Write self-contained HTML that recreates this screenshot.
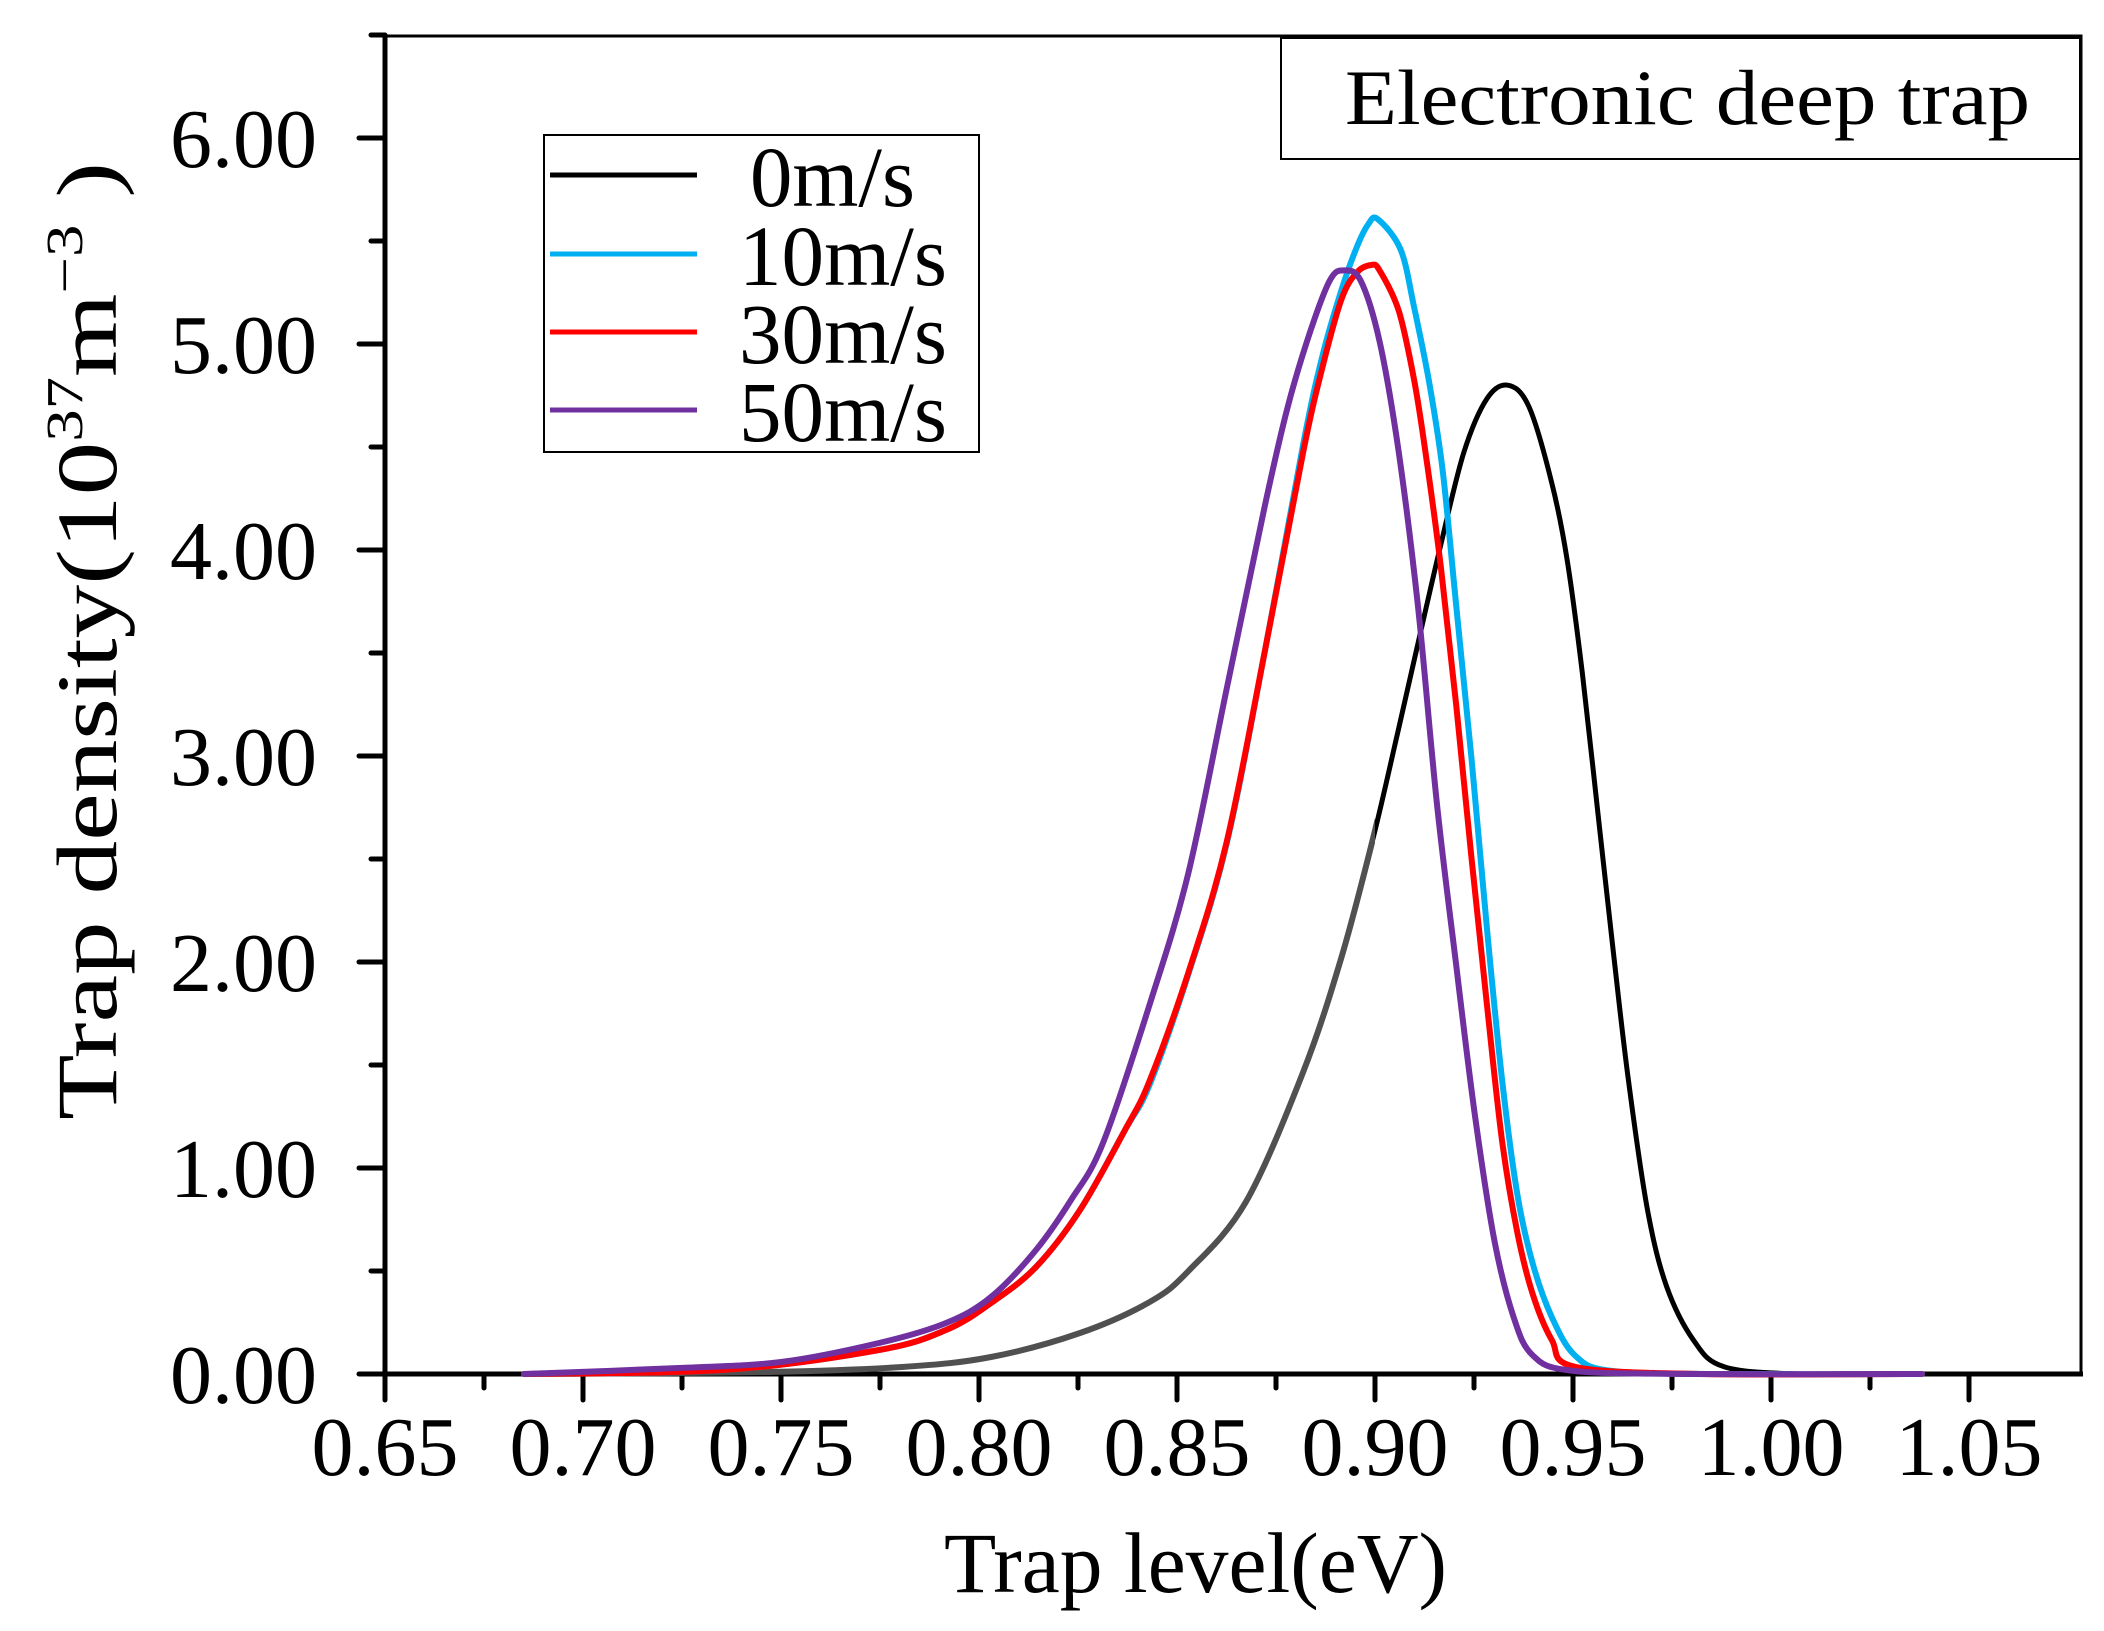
<!DOCTYPE html>
<html><head><meta charset="utf-8"><style>
html,body{margin:0;padding:0;background:#fff;}
svg{display:block;}
text{font-family:"Liberation Serif",serif;fill:#000;}
</style></head><body>
<svg id="s" width="2104" height="1631" viewBox="0 0 2104 1631" xmlns="http://www.w3.org/2000/svg">
<rect width="2104" height="1631" fill="#fff"/>
<g id="ticks" stroke="#000" stroke-width="5" stroke-linecap="round"></g>
<rect x="385" y="36" width="1696" height="1338" fill="none" stroke="#000" stroke-width="3"/>
<line x1="385" y1="34" x2="385" y2="1376" stroke="#000" stroke-width="5"/>
<line x1="361" y1="1374" x2="2083" y2="1374" stroke="#000" stroke-width="5"/>
<g id="curves" fill="none" stroke-linejoin="round" stroke-linecap="round"></g>
<g font-size="84" text-anchor="end" id="ylab"></g>
<g font-size="84" text-anchor="middle" id="xlab"></g>
<text x="944" y="1592" font-size="86" textLength="503" lengthAdjust="spacingAndGlyphs">Trap level(eV)</text>
<text transform="translate(116,1120) rotate(-90)" font-size="86" textLength="958" lengthAdjust="spacingAndGlyphs">Trap density(10<tspan font-size="52" dy="-34">37</tspan><tspan dy="34">m</tspan><tspan font-size="52" dy="-34">−3</tspan><tspan dy="34"> )</tspan></text>
<rect x="1281" y="38" width="799" height="121" fill="#fff" stroke="#000" stroke-width="2"/>
<text x="1345" y="124" font-size="78" textLength="685" lengthAdjust="spacingAndGlyphs">Electronic deep trap</text>
<rect x="544" y="135" width="435" height="317" fill="#fff" stroke="#000" stroke-width="2"/>
<g stroke-width="5">
<line x1="550" y1="175" x2="697" y2="175" stroke="#000"/>
<line x1="550" y1="254" x2="697" y2="254" stroke="#00b0f0"/>
<line x1="550" y1="332" x2="697" y2="332" stroke="#ff0000"/>
<line x1="550" y1="410" x2="697" y2="410" stroke="#7030a0"/>
</g>
<g font-size="86">
<text x="750" y="206" textLength="165" lengthAdjust="spacingAndGlyphs">0m/s</text>
<text x="739" y="285" textLength="208" lengthAdjust="spacingAndGlyphs">10m/s</text>
<text x="739" y="363" textLength="208" lengthAdjust="spacingAndGlyphs">30m/s</text>
<text x="739" y="441" textLength="208" lengthAdjust="spacingAndGlyphs">50m/s</text>
</g>
</svg>
<script>
var NS="http://www.w3.org/2000/svg";
function el(p,t,a,txt){var e=document.createElementNS(NS,t);for(var k in a)e.setAttribute(k,a[k]);if(txt)e.textContent=txt;p.appendChild(e);return e;}
var tk=document.getElementById('ticks');
for(var i=0;i<=8;i++){var x=385+i*198;el(tk,'line',{x1:x,y1:1374,x2:x,y2:1400});
 el(document.getElementById('xlab'),'text',{x:x,y:1475},(0.65+i*0.05).toFixed(2));
 if(i<8){var xm=x+99;el(tk,'line',{x1:xm,y1:1374,x2:xm,y2:1388});}}
for(var j=0;j<=6;j++){var y=1374-j*206;el(tk,'line',{x1:359,y1:y,x2:385,y2:y});
 el(document.getElementById('ylab'),'text',{x:317,y:y+29},j+'.00');
 var ym=y-103;el(tk,'line',{x1:371,y1:ym,x2:385,y2:ym});}
function Z(a){return a.map(function(p){return [1150+p[0]/2.613,200+p[1]/1.307];});}
function path(pts){var d='M'+pts[0][0].toFixed(1)+','+pts[0][1].toFixed(1);
 for(var i=0;i<pts.length-1;i++){var p0=pts[Math.max(0,i-1)],p1=pts[i],p2=pts[i+1],p3=pts[Math.min(pts.length-1,i+2)];
 var c1=[p1[0]+(p2[0]-p0[0])/6,p1[1]+(p2[1]-p0[1])/6],c2=[p2[0]-(p3[0]-p1[0])/6,p2[1]-(p3[1]-p1[1])/6];
 d+='C'+c1[0].toFixed(1)+','+c1[1].toFixed(1)+' '+c2[0].toFixed(1)+','+c2[1].toFixed(1)+' '+p2[0].toFixed(1)+','+p2[1].toFixed(1);}
 return d;}
var B=1374,E=1922,S=524;
var black=[[S,B],[768,1372],[902,1367],[991,1357],[1080,1333]].concat(Z([[0,1440],[100,1400],[250,1310],[400,1140],[500,990],[585,830],[650,690],[700,580],[760,450],[820,330],[880,260],[935,242],[990,270],[1050,370],[1090,470],[1130,620],[1170,800],[1210,980],[1250,1150],[1300,1320],[1350,1420],[1420,1490],[1500,1525]])).concat([[1800,B],[E,B]]);
var redL=[[S,B],[723,1370],[879,1350],[946,1330],[991,1303],[1036,1267],[1080,1210],[1125,1130]];
var red=redL.concat(Z([[0,1150],[100,1010],[200,840],[300,590],[400,330],[450,220],[500,130],[540,95],[578,85],[600,92],[650,145],[690,235],[720,330],[760,480],[800,660],[840,860],[880,1050],[920,1230],[960,1350],[1000,1430],[1050,1490],[1110,1525]])).concat([[1700,B],[E,B]]);
var cyan=redL.concat(Z([[0,1155],[100,1012],[200,842],[300,590],[400,320],[450,205],[500,118],[540,62],[570,32],[595,25],[655,65],[690,140],[730,240],[765,355],[800,530],[840,730],[880,950],[920,1150],[960,1300],[1000,1390],[1050,1460],[1110,1510],[1200,1530]])).concat([[1710,B],[E,B]]);
var purple=[[S,B],[679,1368],[781,1362],[879,1343],[946,1323],[991,1297],[1036,1250],[1071,1200],[1103,1143]].concat(Z([[0,1050],[100,880],[200,640],[300,400],[360,270],[420,170],[470,105],[505,92],[550,105],[600,185],[650,330],[700,530],[750,790],[800,1000],[850,1200],[900,1360],[950,1460],[1000,1510],[1100,1530]])).concat([[1690,B],[E,B]]);
var g=document.getElementById('curves');
el(g,'clipPath',{id:'cl'});el(document.getElementById('cl'),'rect',{x:0,y:0,width:1375,height:1631});
el(g,'clipPath',{id:'cr'});el(document.getElementById('cr'),'rect',{x:1375,y:0,width:800,height:1631});
var db=path(black);
el(g,'path',{d:db,stroke:'#505050','stroke-width':6,'clip-path':'url(#cl)'});
el(g,'path',{d:db,stroke:'#000','stroke-width':5,'clip-path':'url(#cr)'});
el(g,'path',{d:path(cyan),stroke:'#00b0f0','stroke-width':6});
el(g,'path',{d:path(red),stroke:'#ff0000','stroke-width':6});
el(g,'path',{d:path(purple),stroke:'#7030a0','stroke-width':6});
</script>
</body></html>
